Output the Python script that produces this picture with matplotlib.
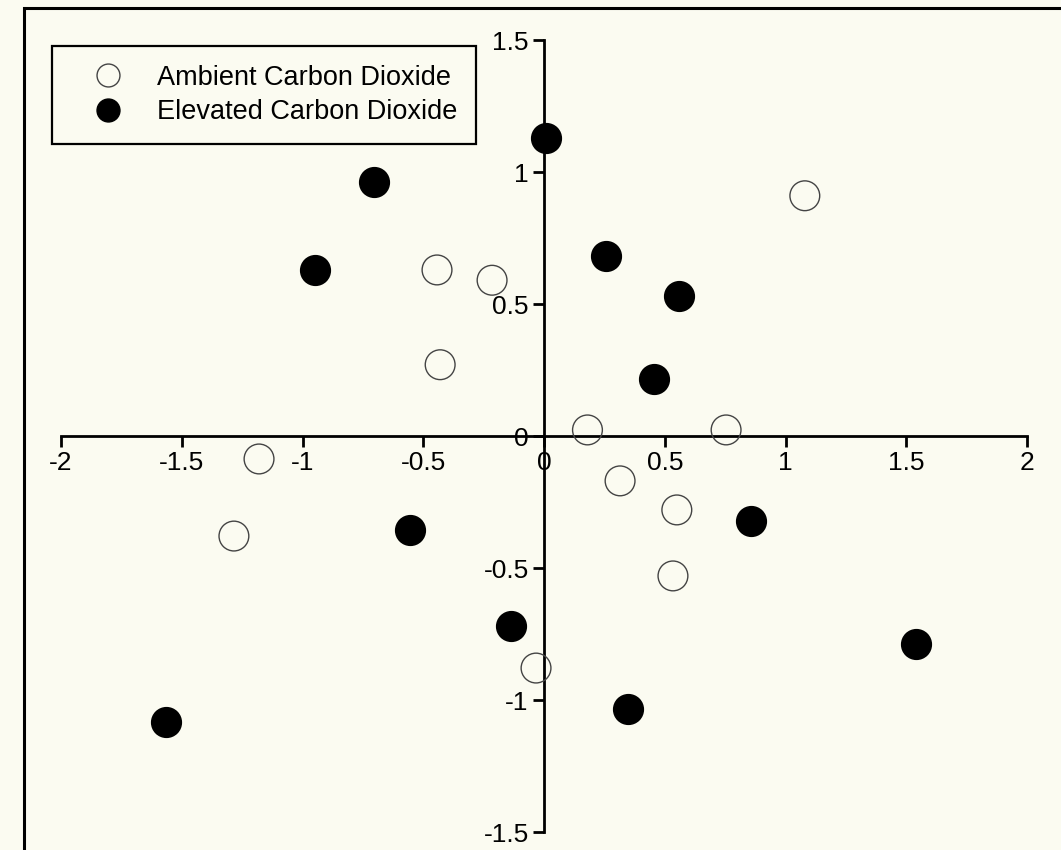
import matplotlib.pyplot as plt
from matplotlib.patches import Rectangle
from matplotlib.lines import Line2D

# Ambient CO2 (open circles)
amb_x = [1.08, -0.443, -0.215, -0.43, 0.18, 0.754, -1.18, 0.315, 0.55, -1.284, 0.534, -0.033]
amb_y = [0.91, 0.629, 0.59, 0.27, 0.023, 0.023, -0.087, -0.17, -0.28, -0.379, -0.53, -0.879]

# Elevated CO2 (filled circles)
elev_x = [0.008, -0.704, -0.948, 0.257, 0.559, 0.455, -0.555, 0.857, -0.137, 0.348, 1.54, -1.565]
elev_y = [1.129, 0.962, 0.629, 0.682, 0.53, 0.216, -0.356, -0.322, -0.72, -1.034, -0.788, -1.083]

xticks = [-2, -1.5, -1, -0.5, 0, 0.5, 1, 1.5, 2]
yticks = [-1.5, -1, -0.5, 0, 0.5, 1, 1.5]
labels = ["Ambient Carbon Dioxide", "Elevated Carbon Dioxide"]

bg = '#fbfbf1'
plt.rcParams['font.family'] = ['Liberation Sans', 'DejaVu Sans']
plt.rcParams['axes.unicode_minus'] = False

fig = plt.figure(figsize=(10.61, 8.5), dpi=100, facecolor=bg)
ax = fig.add_axes([61 / 1061, 18 / 850, 966 / 1061, 792 / 850])
ax.set_facecolor('none')

ax.scatter(amb_x, amb_y, s=460, facecolors='none', edgecolors='#444444',
           linewidths=1.0, clip_on=False, zorder=3)
ax.scatter(elev_x, elev_y, s=460, facecolors='black', edgecolors='black',
           linewidths=1.0, clip_on=False, zorder=3)

ax.set_xlim(-2, 2)
ax.set_ylim(-1.5, 1.5)
ax.spines['left'].set_position(('data', 0))
ax.spines['bottom'].set_position(('data', 0))
ax.spines['top'].set_visible(False)
ax.spines['right'].set_visible(False)
for sp in ('left', 'bottom'):
    ax.spines[sp].set_linewidth(2.0)

ax.set_xticks(xticks)
ax.set_xticklabels([f'{t:g}' for t in xticks])
ax.set_yticks(yticks)
ax.set_yticklabels([f'{t:g}' for t in yticks])
ax.tick_params(axis='both', direction='out', length=8, width=2.0,
               labelsize=19, pad=3, color='black')

handles = [
    Line2D([], [], linestyle='none', marker='o', markersize=16.5,
           markerfacecolor='none', markeredgecolor='#444444', markeredgewidth=1.0),
    Line2D([], [], linestyle='none', marker='o', markersize=16.5,
           markerfacecolor='black', markeredgecolor='black'),
]
leg = fig.legend(handles, labels, loc='upper left',
                 bbox_to_anchor=(52 / 1061, 1 - 46 / 850), fontsize=19.5,
                 frameon=True, fancybox=False, edgecolor='black',
                 facecolor=bg, framealpha=1, borderpad=0.7,
                 labelspacing=0.3, handlelength=2.7, handletextpad=0.48,
                 borderaxespad=0)
leg.get_frame().set_linewidth(1.6)

# outer frame (runs off the right and bottom edges)
fig.patches.append(Rectangle((24 / 1061, -0.1), 1.2, 1.1 - 8 / 850,
                             transform=fig.transFigure, fill=False,
                             edgecolor='black', linewidth=2.2))

fig.savefig('out.png', dpi=100, facecolor=bg)
